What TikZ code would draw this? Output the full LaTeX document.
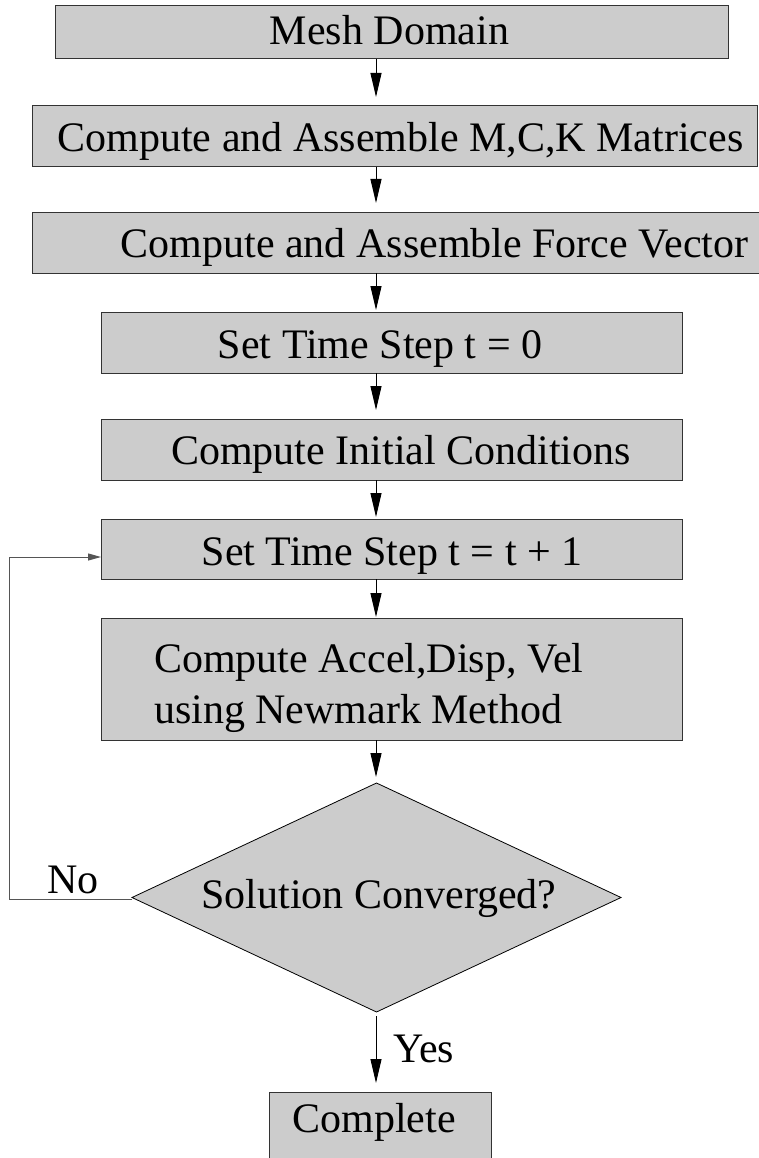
\documentclass[tikz,border=0pt]{standalone}
\usepackage{fontspec}
\setmainfont{Liberation Serif}
\usetikzlibrary{shapes.geometric,arrows.meta}
\definecolor{boxgray}{HTML}{CCCCCC}
\definecolor{edgegray}{HTML}{333333}
\definecolor{loopgray}{HTML}{555555}

\tikzset{
  procbox/.style={rectangle, draw=edgegray, fill=boxgray, line width=1pt,
    inner sep=0pt, outer sep=0pt},
  decbox/.style={diamond, draw=black, fill=boxgray, line width=0.8pt,
    inner sep=0pt, outer sep=0pt, minimum width=489pt, minimum height=229pt},
  lbl/.style={inner sep=0pt, outer sep=0pt, anchor=base,
    font=\fontsize{42}{50}\selectfont},
  flow/.style={line width=1pt, -{Triangle[length=24pt,width=11pt]}},
  back/.style={line width=1pt, draw=loopgray, -{Triangle[length=13pt,width=7pt]}}
}

\begin{document}
\begin{tikzpicture}[x=1pt,y=-1pt]
\clip (0,0) rectangle (759,1158);
\fill[white] (0,0) rectangle (759,1158);

% process boxes
\node[procbox, minimum width=673pt, minimum height=53pt] (b1) at (391.5,32.5) {};
\node[procbox, minimum width=725pt, minimum height=61pt] (b2) at (394.5,136.5) {};
\node[procbox, minimum width=734pt, minimum height=60pt] (b3) at (399,243) {};
\node[procbox, minimum width=581pt, minimum height=61pt] (b4) at (391.5,342.5) {};
\node[procbox, minimum width=581pt, minimum height=61pt] (b5) at (391.5,449.5) {};
\node[procbox, minimum width=581pt, minimum height=60pt] (b6) at (391.5,549) {};
\node[procbox, minimum width=581pt, minimum height=122pt] (b7) at (391.5,679) {};
\node[decbox] (dec) at (376.5,897.5) {};
\node[procbox, minimum width=222pt, minimum height=80pt] (b9) at (380,1132) {};

% box texts
\node[lbl] (t1) at (389.5,45) {Mesh Domain};
\node[lbl] (t2) at (400.5,152) {Compute and Assemble M,C,K Matrices};
\node[lbl] (t3) at (434.5,258) {Compute and Assemble Force Vector};
\node[lbl] (t4) at (380,358) {Set Time Step t = 0};
\node[lbl] (t5) at (401,464) {Compute Initial Conditions};
\node[lbl] (t6) at (392,565) {Set Time Step t = t + 1};
\node[lbl, anchor=base west] (t7a) at (154,672) {Compute Accel,Disp, Vel};
\node[lbl, anchor=base west] (t7b) at (154,723) {using Newmark Method};
\node[lbl] (t8) at (379,908) {Solution Converged?};
\node[lbl] (t9) at (374,1132) {Complete};
\node[lbl] (no) at (73,893) {No};
\node[lbl, anchor=base west] (yes) at (393,1062) {Yes};

% main flow
\coordinate (ax) at (376,0);
\coordinate (lx) at (9,0);
\draw[flow, shorten >=9pt] (b1.south -| ax) -- (b2.north -| ax);
\draw[flow, shorten >=10pt] (b2.south -| ax) -- (b3.north -| ax);
\draw[flow, shorten >=2pt] (b3.south -| ax) -- (b4.north -| ax);
\draw[flow, shorten >=9pt] (b4.south -| ax) -- (b5.north -| ax);
\draw[flow, shorten >=2pt] (b5.south -| ax) -- (b6.north -| ax);
\draw[flow, shorten >=1pt] (b6.south -| ax) -- (b7.north -| ax);
\draw[flow, shorten >=6pt] (b7.south -| ax) -- (dec.north -| ax);
\draw[flow, shorten <=4pt, shorten >=9pt] (dec.south -| ax) -- (b9.north -| ax);

% loop back when not converged
\draw[back] ([yshift=-2pt]dec.west) -- ([yshift=-2pt]dec.west -| lx)
  |- ([yshift=-8pt]b6.west);
\end{tikzpicture}
\end{document}
